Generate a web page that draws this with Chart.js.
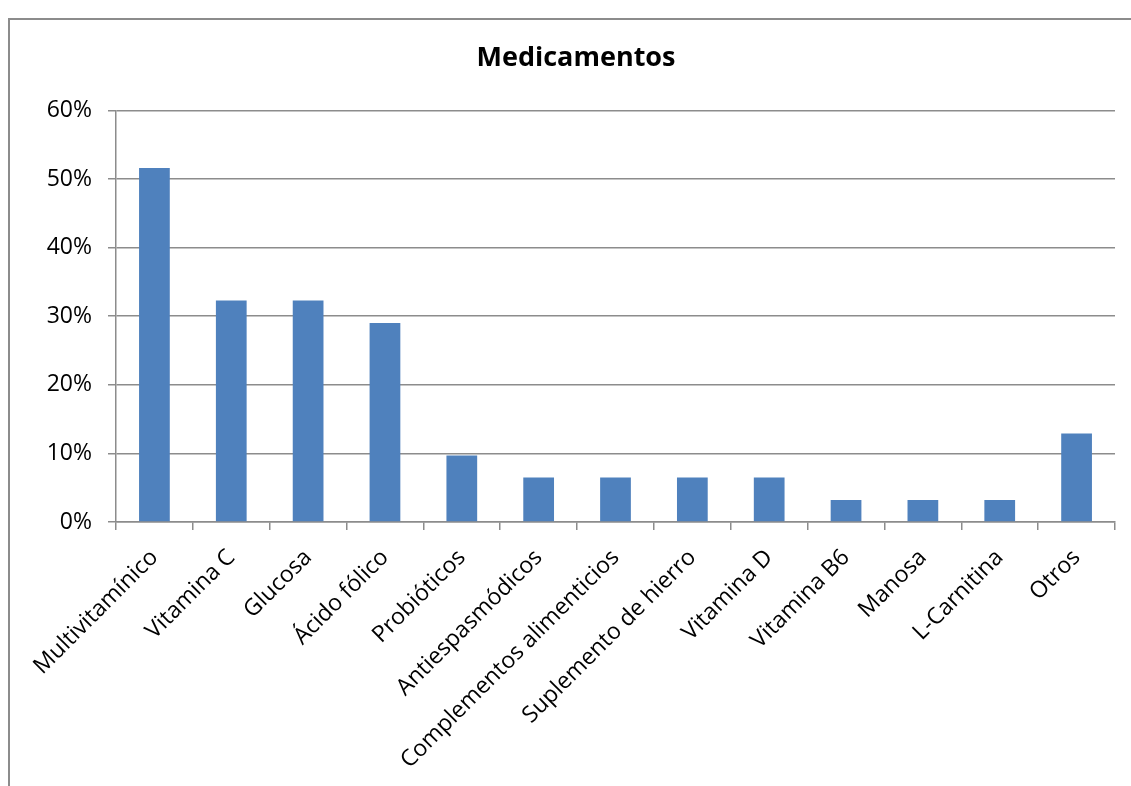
<!DOCTYPE html>
<html lang="es">
<head>
<meta charset="utf-8">
<title>Medicamentos</title>
<style>
  html, body { margin: 0; padding: 0; background: #ffffff; }
  .frame {
    position: absolute;
    left: 8px;
    top: 18px;
    width: 1200px;
    height: 900px;
    border-top: 2px solid #8c8c8c;
    border-left: 2px solid #8c8c8c;
  }
  .wrap { position: absolute; left: 0; top: 0; width: 1131px; height: 786px; }
</style>
</head>
<body>
<div class="frame"></div>
<div class="wrap"><canvas id="chart" width="1131" height="786"></canvas></div>
<script src="https://cdn.jsdelivr.net/npm/chart.js@4/dist/chart.umd.min.js"></script>
<script>
// categorias y porcentajes
const categories = [
  "Multivitamínico", "Vitamina C", "Glucosa", "Ácido fólico", "Probióticos",
  "Antiespasmódicos", "Complementos alimenticios", "Suplemento de hierro",
  "Vitamina D", "Vitamina B6", "Manosa", "L-Carnitina", "Otros"
];
const percents = [51.6, 32.3, 32.3, 29.0, 9.7, 6.5, 6.5, 6.5, 6.5, 3.2, 3.2, 3.2, 12.9];
const yTicks = [0, 10, 20, 30, 40, 50, 60];

const gridColor = "#8c8c8c";
const font = "'Open Sans', 'Noto Sans', sans-serif";
const padLeft = 37;

new Chart(document.getElementById("chart"), {
  type: "bar",
  data: {
    labels: categories,
    datasets: [{
      data: percents,
      backgroundColor: "#4f81bd",
      barPercentage: 0.4,
      categoryPercentage: 1.0
    }]
  },
  options: {
    responsive: false,
    animation: false,
    layout: { padding: { left: padLeft, right: 16, top: 0, bottom: 0 } },
    plugins: {
      legend: { display: false },
      tooltip: { enabled: false },
      title: {
        display: true,
        text: "Medicamentos",
        color: "#000000",
        font: { family: font, size: 27, weight: "bold" },
        padding: { top: 42, bottom: 36 }
      }
    },
    scales: {
      x: {
        grid: {
          drawOnChartArea: false,
          drawTicks: true,
          tickLength: 8,
          color: gridColor,
          lineWidth: 1.5,
          offset: true
        },
        border: { color: gridColor, width: 1.5 },
        ticks: {
          color: "#000000",
          font: { family: font, size: 23 },
          minRotation: 45,
          maxRotation: 45,
          autoSkip: false,
          padding: 14
        },
        afterFit(scale) { scale.height = 264; }
      },
      y: {
        min: 0,
        max: 60,
        afterBuildTicks(scale) { scale.ticks = yTicks.map(v => ({ value: v })); },
        grid: { color: gridColor, lineWidth: 1.5, tickLength: 8 },
        border: { color: gridColor, width: 1.5 },
        ticks: {
          color: "#000000",
          font: { family: font, size: 23 },
          padding: 16,
          callback: v => v + "%"
        },
        afterFit(scale) { scale.width = 116 - padLeft; }
      }
    }
  }
});
</script>
</body>
</html>
